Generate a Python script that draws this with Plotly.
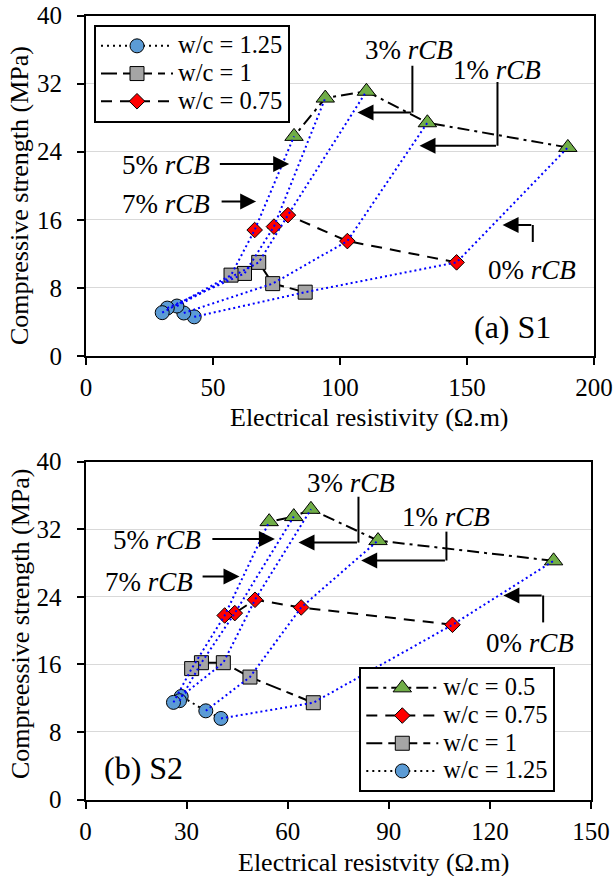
import plotly.graph_objects as go

# ---------------- data ----------------
rcb_levels = ["0%", "1%", "3%", "5%", "7%"]

# S1
s1_res_05 = [189.7, 134.4, 110.4, 94.2, 81.9]
s1_cs_05 = [24.5, 27.4, 31.1, 30.3, 25.8]
s1_res_075 = [145.9, 102.9, 79.5, 74.0, 66.4]
s1_cs_075 = [11.0, 13.5, 16.55, 15.2, 14.8]
s1_res_1 = [86.3, 73.5, 68.0, 62.4, 57.1]
s1_cs_1 = [7.5, 8.5, 11.0, 9.7, 9.5]
s1_res_125 = [42.6, 38.5, 35.8, 32.0, 30.0]
s1_cs_125 = [4.6, 5.05, 5.87, 5.63, 5.09]

# S2
s2_res_05 = [138.9, 86.8, 66.9, 61.8, 54.5]
s2_cs_05 = [28.26, 30.66, 34.36, 33.5, 32.9]
s2_res_075 = [108.9, 64.0, 50.3, 44.3, 41.3]
s2_cs_075 = [20.69, 22.74, 23.65, 22.07, 21.79]
s2_res_1 = [67.6, 48.8, 40.9, 34.4, 31.5]
s2_cs_1 = [11.46, 14.5, 16.2, 16.2, 15.5]
s2_res_125 = [40.2, 35.7, 28.4, 27.9, 26.1]
s2_cs_125 = [9.6, 10.5, 12.2, 11.7, 11.5]

FONT = "Liberation Serif, Times New Roman, serif"
W, H = 616, 876
TICK_SIZE = 25
TITLE_SIZE = 26
ANN_SIZE = 27

styles = {
    "0.5": dict(symbol="triangle-up", color="#70AD47", size=16, dash="12px,5px,3px,5px"),
    "0.75": dict(symbol="diamond", color="#FF0000", size=12, dash="11px,8px"),
    "1": dict(symbol="square", color="#A5A5A5", size=14, dash="16px,6px,7px,6px"),
    "1.25": dict(symbol="circle", color="#5B9BD5", size=14, dash="2px,4px"),
}

fig = go.Figure()


def add_series(xs, ys, key, xa, ya, legend, showlegend, rank, legsize):
    st = styles[key]
    fig.add_trace(go.Scatter(
        x=xs, y=ys, mode="lines+markers",
        name=f'<span style="font-size:{legsize}px">w/c = {key}</span>',
        xaxis=xa, yaxis=ya, legend=legend, showlegend=showlegend, legendrank=rank,
        line=dict(color="black", width=2, dash=st["dash"]),
        marker=dict(symbol=st["symbol"], color=st["color"], size=st["size"],
                    line=dict(color="black", width=1)),
        hoverinfo="skip",
    ))


def add_blue(series, xa, ya):
    for i in range(len(rcb_levels)):
        xs = [s[0][i] for s in series]
        ys = [s[1][i] for s in series]
        fig.add_trace(go.Scatter(
            x=xs, y=ys, mode="lines", xaxis=xa, yaxis=ya, showlegend=False,
            line=dict(color="#0000FF", width=2, dash="2px,3px"), hoverinfo="skip"))


# S1 panel
add_series(s1_res_05, s1_cs_05, "0.5", "x", "y", "legend", False, 4, 24.5)
add_series(s1_res_075, s1_cs_075, "0.75", "x", "y", "legend", True, 3, 24.5)
add_series(s1_res_1, s1_cs_1, "1", "x", "y", "legend", True, 2, 24.5)
add_series(s1_res_125, s1_cs_125, "1.25", "x", "y", "legend", True, 1, 24.5)
add_blue([(s1_res_125, s1_cs_125), (s1_res_1, s1_cs_1),
          (s1_res_075, s1_cs_075), (s1_res_05, s1_cs_05)], "x", "y")

# S2 panel
add_series(s2_res_05, s2_cs_05, "0.5", "x2", "y2", "legend2", True, 1, 24.5)
add_series(s2_res_075, s2_cs_075, "0.75", "x2", "y2", "legend2", True, 2, 24.5)
add_series(s2_res_1, s2_cs_1, "1", "x2", "y2", "legend2", True, 3, 24.5)
add_series(s2_res_125, s2_cs_125, "1.25", "x2", "y2", "legend2", True, 4, 24.5)
add_blue([(s2_res_125, s2_cs_125), (s2_res_1, s2_cs_1),
          (s2_res_075, s2_cs_075), (s2_res_05, s2_cs_05)], "x2", "y2")

axis_common = dict(
    showline=True, linecolor="black", linewidth=2, mirror=True,
    ticks="outside", ticklen=7, tickwidth=2, tickcolor="black",
    tickfont=dict(family=FONT, size=TICK_SIZE, color="black"),
    zeroline=False, automargin=False,
)
xcommon = dict(showgrid=False, ticklabelstandoff=1, **axis_common)
ycommon = dict(range=[0, 40], dtick=8, showgrid=True, gridcolor="#D9D9D9", gridwidth=1,
               ticklabelstandoff=10, **axis_common)

fig.update_layout(
    width=W, height=H,
    margin=dict(l=0, r=0, t=0, b=0),
    paper_bgcolor="white", plot_bgcolor="white",
    font=dict(family=FONT, size=24, color="black"),
    xaxis=dict(domain=[86 / W, 594 / W], anchor="y", range=[0, 200], dtick=50, **xcommon),
    yaxis=dict(domain=[(H - 356) / H, (H - 15.5) / H], anchor="x", **ycommon),
    xaxis2=dict(domain=[85.5 / W, 591 / W], anchor="y2", range=[0, 150], dtick=30, **xcommon),
    yaxis2=dict(domain=[(H - 799.5) / H, (H - 461.7) / H], anchor="x2", **ycommon),
    legend=dict(x=94 / W, y=(H - 25) / H, xanchor="left", yanchor="top",
                bordercolor="black", borderwidth=2, bgcolor="white", itemwidth=72,
                font=dict(family=FONT, size=19), traceorder="normal"),
    legend2=dict(x=359.3 / W, y=(H - 792) / H, xanchor="left", yanchor="bottom",
                 bordercolor="black", borderwidth=2, bgcolor="white", itemwidth=72,
                 font=dict(family=FONT, size=19), traceorder="normal"),
)

# axis titles (placed like the reference)
axis_titles = [
    ("Electrical resistivity (Ω.m)", 369, 417, 0),
    ("Electrical resistvity (Ω.m)", 374, 862, 0),
    ("Compressive strength (MPa)", 19, 196, -90),
    ("Compreessive strength (MPa)", 20, 624, -90),
]
for txt, px, py, ang in axis_titles:
    fig.add_annotation(xref="paper", yref="paper", x=px / W, y=(H - py) / H, text=txt,
                       textangle=ang, showarrow=False, xanchor="center", yanchor="middle",
                       font=dict(family=FONT, size=TITLE_SIZE, color="black"))

# ---------- annotations: labels & elbow arrows ----------
labels = [
    ("x", "y", "3%", 127, 35.9, (128.5, 34.1, 28.6), (128.5, 28.6), (106.9, 28.6)),
    ("x", "y", "1%", 162, 33.6, (162, 32.2, 24.7), (162, 24.7), (131.3, 24.7)),
    ("x", "y", "5%", 31.3, 22.4, None, (52.1, 22.55), (80.0, 22.55)),
    ("x", "y", "7%", 31.3, 17.9, None, (52.8, 18.15), (67.0, 18.15)),
    ("x", "y", "0%", 175.6, 10.15, (175.9, 13.4, 15.4), (175.9, 15.4), (164.0, 15.4)),
    ("x2", "y2", "3%", 78.9, 37.44, (81.0, 35.86, 30.42), (81.0, 30.42), (63.2, 30.42)),
    ("x2", "y2", "1%", 106.9, 33.42, (107.1, 31.72, 28.3), (107.1, 28.3), (81.8, 28.3)),
    ("x2", "y2", "5%", 21.2, 30.74, None, (37.2, 30.86), (56.2, 30.86)),
    ("x2", "y2", "7%", 18.9, 25.7, None, (34.3, 26.4), (45.7, 26.4)),
    ("x2", "y2", "0%", 131.9, 18.52, (135.8, 20.97, 24.16), (135.8, 24.16), (124.0, 24.16)),
]

for xa, ya, pct, tx, ty, elbow, tail, tip in labels:
    fig.add_annotation(xref=xa, yref=ya, x=tx, y=ty, text=f"{pct} <i>rCB</i>",
                       showarrow=False, font=dict(family=FONT, size=ANN_SIZE, color="black"),
                       xanchor="center", yanchor="middle")
    if elbow is not None:
        fig.add_shape(type="line", xref=xa, yref=ya, x0=elbow[0], x1=elbow[0],
                      y0=elbow[1], y1=elbow[2], line=dict(color="black", width=2))
    fig.add_annotation(xref=xa, yref=ya, axref=xa, ayref=ya, x=tip[0], y=tip[1],
                       ax=tail[0], ay=tail[1], text="", showarrow=True,
                       arrowhead=2, arrowsize=1.6, arrowwidth=2, arrowcolor="black",
                       standoff=0, startstandoff=0)

fig.add_annotation(xref="x", yref="y", x=167.9, y=3.4, text="(a) S1", showarrow=False,
                   font=dict(family=FONT, size=32, color="black"))
fig.add_annotation(xref="x2", yref="y2", x=17.1, y=3.75, text="(b) S2", showarrow=False,
                   font=dict(family=FONT, size=32, color="black"))

fig.write_html("out.html")
